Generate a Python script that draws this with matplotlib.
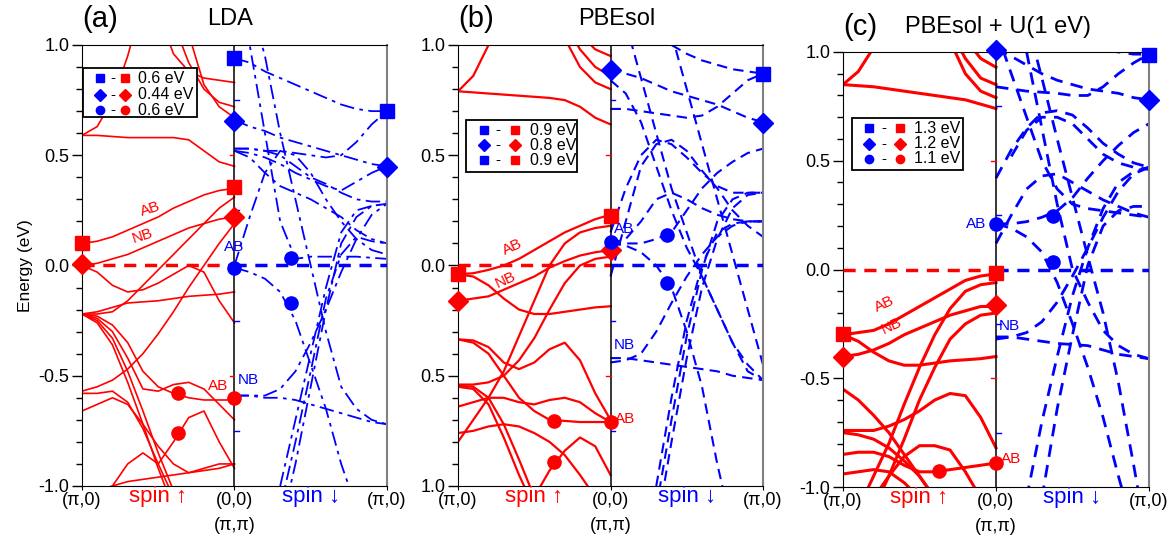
import numpy as np
import matplotlib
matplotlib.use('Agg')
import matplotlib.pyplot as plt
from matplotlib.transforms import blended_transform_factory
from matplotlib.patches import Rectangle

plt.rcParams['font.family'] = ['Liberation Sans', 'DejaVu Sans']

nan = np.nan
RED = '#ff0000'
BLUE = '#0000ff'

# momentum grid for each half: 0 -> (pi,0)/(0,0) ... 1 -> (0,0)/(pi,0)
k_grid = [0.0, 0.1, 0.2, 0.3, 0.4, 0.5, 0.6, 0.7, 0.8, 0.9, 1.0]

# ---------------- Panel (a) LDA : spin-up (red) bands ----------------
a_up_top = [0.59, 0.59, 0.585, 0.58, 0.58, 0.58, 0.58, 0.57, 0.52, 0.47, 0.45]
a_up_rise = [0.59, 0.63, 0.75, 0.95, 1.2, nan, nan, nan, nan, nan, nan]
a_up_tr1 = [nan, nan, nan, nan, nan, 1.15, 0.96, 0.88, 0.85, 0.84, 0.83]
a_up_tr2 = [nan, nan, nan, nan, nan, nan, 1.1, 0.92, 0.80, 0.74, 0.72]
a_up_tr3 = [nan, nan, nan, nan, nan, nan, nan, 1.05, 0.82, 0.72, 0.67]
a_up_AB = [0.10, 0.11, 0.13, 0.16, 0.19, 0.22, 0.26, 0.29, 0.32, 0.34, 0.35]
a_up_NB = [0.00, 0.01, 0.03, 0.05, 0.08, 0.11, 0.14, 0.17, 0.19, 0.21, 0.22]
a_up_d1 = [0.00, -0.03, -0.09, -0.12, -0.11, -0.08, -0.04, 0.00, -0.03, -0.16, -0.26]
a_up_f1 = [-0.22, -0.21, -0.19, -0.17, -0.165, -0.16, -0.15, -0.14, -0.135, -0.13, -0.12]
a_up_u1 = [-0.22, -0.22, -0.21, -0.16, -0.09, -0.02, 0.05, 0.12, 0.19, 0.26, 0.31]
a_up_u2 = [-0.57, -0.55, -0.52, -0.47, -0.40, -0.31, -0.21, -0.10, 0.00, 0.10, 0.19]
a_up_s1 = [-0.22, -0.23, -0.27, -0.35, -0.48, -0.55, -0.58, -0.60, -0.61, -0.61, -0.61]
a_up_s2 = [-0.22, -0.24, -0.30, -0.42, -0.56, -0.57, -0.54, -0.53, -0.56, -0.63, -0.70]
a_up_s3 = [-0.22, -0.25, -0.33, -0.48, -0.66, -0.85, -1.02, nan, nan, nan, nan]
a_up_s4 = [-0.22, -0.26, -0.36, -0.53, -0.72, -0.92, -1.10, nan, nan, nan, nan]
a_up_l1 = [-0.58, -0.58, -0.57, -0.62, -0.74, -0.90, -1.05, nan, nan, nan, nan]
a_up_l2 = [-0.66, -0.63, -0.60, -0.63, -0.72, -0.82, -0.90, -0.94, -0.92, -0.90, -0.90]
a_up_c2 = [-1.2, -1.1, -1.0, -0.9, -0.85, -0.90, -0.80, -0.69, -0.66, -0.80, -0.92]
a_up_b1 = [-1.05, -1.02, -1.00, -0.98, -0.97, -0.96, -0.95, -0.94, -0.93, -0.92, -0.90]

# ---------------- Panel (a) LDA : spin-down (blue) bands ----------------
a_dn_b1 = [0.94, 0.92, 0.88, 0.85, 0.82, 0.79, 0.76, 0.73, 0.71, 0.70, 0.70]
a_dn_b2 = [0.66, 0.63, 0.61, 0.58, 0.56, 0.54, 0.52, 0.50, 0.48, 0.46, 0.45]
a_dn_b3 = [0.53, 0.53, 0.52, 0.52, 0.51, 0.50, 0.49, 0.50, 0.56, 0.64, 0.70]
a_dn_b4 = [0.52, 0.51, 0.49, 0.46, 0.42, 0.39, 0.36, 0.34, 0.38, 0.42, 0.45]
a_dn_b5 = [0.52, 0.49, 0.42, 0.36, 0.33, 0.30, 0.26, 0.22, 0.16, 0.12, 0.10]
a_dn_b6 = [1.3, 1.0, 0.60, 0.20, 0.03, 0.04, 0.04, 0.04, 0.04, 0.035, 0.03]
a_dn_b7 = [0.00, 0.22, 0.42, 0.52, 0.50, 0.42, 0.30, 0.20, 0.12, 0.07, 0.05]
a_dn_b8 = [-0.01, -0.03, -0.06, -0.12, -0.25, -0.45, -0.65, -0.90, -1.10, nan, nan]
a_dn_nb1 = [-0.59, -0.59, -0.59, -0.56, -0.48, -0.35, -0.20, -0.03, 0.12, 0.23, 0.28]
a_dn_nb2 = [-0.59, -0.59, -0.60, -0.60, -0.61, -0.63, -0.65, -0.67, -0.69, -0.71, -0.72]
a_dn_st1 = [nan, nan, nan, -1.0, -0.70, -0.40, -0.10, 0.15, 0.25, 0.27, 0.28]
a_dn_st2 = [nan, nan, nan, -1.2, -0.90, -0.55, -0.20, 0.10, 0.22, 0.27, 0.28]
a_dn_st3 = [nan, nan, nan, -1.1, -0.80, -0.48, -0.15, 0.05, 0.13, 0.11, 0.10]
a_dn_dt1 = [nan, 1.2, 0.95, 0.60, 0.30, 0.00, -0.30, -0.55, -0.65, -0.70, -0.72]
a_dn_mid = [0.53, 0.53, 0.52, 0.50, 0.45, 0.40, 0.37, 0.33, 0.30, 0.29, 0.29]

# ---------------- Panel (b) PBEsol : spin-up ----------------
b_up_top = [0.79, 0.785, 0.78, 0.775, 0.77, 0.765, 0.76, 0.75, 0.72, 0.67, 0.64]
b_up_rise = [0.79, 0.86, 1.0, 1.2, nan, nan, nan, nan, nan, nan, nan]
b_up_tr1 = [nan, nan, nan, nan, nan, nan, 1.2, 1.03, 0.90, 0.83, 0.80]
b_up_tr2 = [nan, nan, nan, nan, nan, nan, nan, 1.1, 0.98, 0.90, 0.86]
b_up_tr3 = [nan, nan, nan, nan, nan, nan, nan, nan, 1.05, 0.98, 0.95]
b_up_AB = [-0.04, -0.035, -0.02, 0.00, 0.03, 0.07, 0.11, 0.15, 0.18, 0.21, 0.23]
b_up_NB = [-0.16, -0.15, -0.14, -0.11, -0.08, -0.05, -0.01, 0.02, 0.045, 0.06, 0.07]
b_up_d1 = [-0.04, -0.05, -0.09, -0.15, -0.20, -0.22, -0.22, -0.21, -0.20, -0.19, -0.185]
b_up_u1 = [-0.80, -0.70, -0.60, -0.48, -0.32, -0.16, 0.00, 0.10, 0.15, 0.17, 0.18]
b_up_u2 = [-0.54, -0.54, -0.53, -0.50, -0.43, -0.33, -0.20, -0.08, 0.00, 0.03, 0.04]
b_up_l1 = [-0.335, -0.34, -0.37, -0.44, -0.47, -0.44, -0.38, -0.35, -0.43, -0.58, -0.70]
b_up_l2 = [-0.335, -0.35, -0.40, -0.50, -0.60, -0.66, -0.70, -0.705, -0.71, -0.71, -0.71]
b_up_l3 = [-0.545, -0.55, -0.60, -0.72, -0.88, -1.05, nan, nan, nan, nan, nan]
b_up_l4 = [-0.55, -0.56, -0.63, -0.78, -0.95, -1.10, nan, nan, nan, nan, nan]
b_up_l5 = [-0.64, -0.62, -0.60, -0.60, -0.62, -0.63, -0.61, -0.60, -0.62, -0.67, -0.71]
b_up_l6 = [-0.76, -0.75, -0.73, -0.72, -0.73, -0.76, -0.80, -0.86, -0.95, -1.05, nan]
b_up_c2 = [nan, nan, nan, nan, nan, -1.05, -0.93, -0.84, -0.78, -0.82, -0.95]

# ---------------- Panel (b) PBEsol : spin-down ----------------
b_dn_b1 = [0.89, 0.87, 0.85, 0.82, 0.79, 0.77, 0.75, 0.73, 0.70, 0.67, 0.65]
b_dn_b2 = [0.71, 0.71, 0.70, 0.69, 0.68, 0.67, 0.68, 0.72, 0.78, 0.84, 0.87]
b_dn_b3 = [nan, nan, nan, nan, 1.0, 0.96, 0.93, 0.91, 0.89, 0.88, 0.87]
b_dn_h1 = [-0.05, 0.20, 0.45, 0.55, 0.57, 0.52, 0.43, 0.35, 0.25, 0.18, 0.13]
b_dn_h2 = [0.15, 0.35, 0.50, 0.57, 0.55, 0.49, 0.42, 0.36, 0.33, 0.33, 0.33]
b_dn_h3 = [0.10, 0.12, 0.20, 0.30, 0.33, 0.30, 0.26, 0.23, 0.21, 0.20, 0.20]
b_dn_d084 = [0.84, 0.78, 0.65, 0.45, 0.25, 0.08, -0.05, -0.20, -0.35, -0.45, -0.52]
b_dn_AB = [0.10, 0.10, 0.10, 0.12, 0.15, 0.25, 0.35, 0.42, 0.47, 0.51, 0.53]
b_dn_cd = [0.10, 0.09, 0.06, 0.00, -0.10, -0.30, -0.55, -0.90, -1.20, nan, nan]
b_dn_NB = [-0.42, -0.42, -0.43, -0.44, -0.45, -0.46, -0.47, -0.48, -0.50, -0.51, -0.52]
b_dn_NB2 = [-0.44, -0.43, -0.40, -0.30, -0.17, -0.05, 0.05, 0.13, 0.18, 0.20, 0.20]
b_dn_s1 = [nan, nan, nan, -1.0, -0.60, -0.25, 0.00, 0.15, 0.19, 0.20, 0.20]
b_dn_s2 = [nan, nan, nan, -1.2, -0.80, -0.42, -0.10, 0.12, 0.26, 0.32, 0.33]
b_dn_s3 = [nan, nan, nan, -1.1, -0.70, -0.32, -0.02, 0.20, 0.30, 0.33, 0.33]
b_dn_t1 = [nan, 1.1, 0.85, 0.60, 0.35, 0.15, -0.05, -0.20, -0.35, -0.48, -0.52]
b_dn_t2 = [nan, nan, nan, nan, 1.05, 0.80, 0.55, 0.30, 0.05, -0.20, -0.45]

# ---------------- Panel (c) PBEsol+U : spin-up ----------------
c_up_top = [0.85, 0.845, 0.84, 0.83, 0.82, 0.81, 0.80, 0.79, 0.78, 0.76, 0.74]
c_up_rise = [0.85, 0.91, 1.02, nan, nan, nan, nan, nan, nan, nan, nan]
c_up_tr1 = [nan, nan, nan, nan, nan, nan, nan, 1.05, 0.90, 0.82, 0.79]
c_up_tr2 = [nan, nan, nan, nan, nan, nan, nan, 1.1, 0.97, 0.88, 0.85]
c_up_tr3 = [nan, nan, nan, nan, nan, nan, nan, nan, 1.06, 0.97, 0.93]
c_up_AB = [-0.30, -0.29, -0.28, -0.25, -0.21, -0.17, -0.13, -0.09, -0.05, -0.03, -0.02]
c_up_NB = [-0.40, -0.39, -0.37, -0.34, -0.30, -0.27, -0.24, -0.21, -0.19, -0.17, -0.17]
c_up_d1 = [-0.30, -0.33, -0.38, -0.42, -0.44, -0.44, -0.43, -0.42, -0.415, -0.41, -0.40]
c_up_u1 = [nan, -1.1, -0.95, -0.80, -0.62, -0.45, -0.30, -0.18, -0.10, -0.07, -0.06]
c_up_u2 = [nan, nan, -1.1, -0.95, -0.78, -0.60, -0.45, -0.32, -0.25, -0.21, -0.20]
c_up_l1 = [-0.55, -0.60, -0.67, -0.75, -0.85, -0.95, -1.05, nan, nan, nan, nan]
c_up_l2 = [-0.74, -0.74, -0.74, -0.72, -0.69, -0.65, -0.60, -0.57, -0.58, -0.68, -0.82]
c_up_l3 = [-0.75, -0.76, -0.78, -0.82, -0.88, -0.95, -1.05, nan, nan, nan, nan]
c_up_l4 = [-0.85, -0.84, -0.84, -0.86, -0.90, -0.93, -0.93, -0.92, -0.91, -0.90, -0.89]
c_up_l5 = [-0.94, -0.93, -0.92, -0.93, -0.98, -1.05, nan, nan, nan, nan, nan]
c_up_l6 = [nan, nan, -1.05, -0.95, -0.86, -0.81, -0.81, -0.83, -0.93, -1.05, nan]

# ---------------- Panel (c) PBEsol+U : spin-down ----------------
c_dn_b1 = [1.02, 0.98, 0.94, 0.90, 0.87, 0.85, 0.83, 0.82, 0.81, 0.79, 0.78]
c_dn_b2 = [0.84, 0.83, 0.82, 0.815, 0.81, 0.80, 0.80, 0.84, 0.90, 0.95, 0.99]
c_dn_b3 = [nan, nan, nan, nan, nan, nan, 1.03, 1.01, 1.00, 0.99, 0.99]
c_dn_h1 = [0.42, 0.55, 0.65, 0.72, 0.73, 0.71, 0.65, 0.58, 0.53, 0.49, 0.47]
c_dn_h1b = [nan, 0.52, 0.64, 0.70, 0.70, 0.67, 0.60, 0.53, 0.49, 0.47, 0.46]
c_dn_h2 = [0.12, 0.25, 0.37, 0.43, 0.44, 0.40, 0.36, 0.32, 0.29, 0.26, 0.24]
c_dn_AB = [0.21, 0.21, 0.22, 0.24, 0.27, 0.33, 0.42, 0.50, 0.57, 0.63, 0.67]
c_dn_cd = [0.21, 0.19, 0.15, 0.08, -0.06, -0.25, -0.45, -0.68, -0.95, -1.2, nan]
c_dn_NB = [-0.31, -0.31, -0.32, -0.33, -0.34, -0.345, -0.35, -0.37, -0.39, -0.40, -0.41]
c_dn_NB2 = [-0.32, -0.31, -0.29, -0.24, -0.15, -0.03, 0.10, 0.24, 0.36, 0.44, 0.47]
c_dn_s1 = [nan, nan, -1.05, -0.70, -0.40, -0.12, 0.10, 0.28, 0.40, 0.45, 0.47]
c_dn_s2 = [nan, nan, nan, -1.05, -0.64, -0.30, 0.02, 0.20, 0.27, 0.29, 0.29]
c_dn_t1 = [nan, nan, 1.15, 0.88, 0.60, 0.33, 0.06, -0.20, -0.52, -0.90, -1.3]
c_dn_t2 = [nan, nan, 1.0, 0.65, 0.30, 0.00, -0.15, -0.28, -0.35, -0.39, -0.41]
c_dn_t3 = [1.1, 0.90, 0.70, 0.50, 0.37, 0.30, 0.28, 0.27, 0.26, 0.25, 0.24]

# ---------------- markers (x in path units: 0=(pi,0), 1=(0,0), 2=(pi,0)) ----------------
a_up_sq_x, a_up_sq_y = [0, 1], [0.10, 0.355]
a_up_di_x, a_up_di_y = [0, 1], [0.005, 0.22]
a_up_ci_x, a_up_ci_y = [0.63, 0.63, 1], [-0.58, -0.76, -0.60]
a_dn_sq_x, a_dn_sq_y = [1, 2], [0.94, 0.70]
a_dn_di_x, a_dn_di_y = [1, 2], [0.655, 0.448]
a_dn_ci_x, a_dn_ci_y = [1, 1.37, 1.37], [-0.01, 0.035, -0.168]

b_up_sq_x, b_up_sq_y = [0, 1], [-0.04, 0.226]
b_up_di_x, b_up_di_y = [0, 1], [-0.163, 0.069]
b_up_ci_x, b_up_ci_y = [0.63, 0.63, 1], [-0.705, -0.89, -0.71]
b_dn_sq_x, b_dn_sq_y = [2], [0.87]
b_dn_di_x, b_dn_di_y = [1, 2], [0.885, 0.645]
b_dn_ci_x, b_dn_ci_y = [1, 1.37, 1.37], [0.105, 0.136, -0.08]

c_up_sq_x, c_up_sq_y = [0, 1], [-0.296, -0.015]
c_up_di_x, c_up_di_y = [0, 1], [-0.40, -0.165]
c_up_ci_x, c_up_ci_y = [0.63, 1], [-0.925, -0.89]
c_dn_sq_x, c_dn_sq_y = [2], [0.987]
c_dn_di_x, c_dn_di_y = [1, 2], [1.01, 0.78]
c_dn_ci_x, c_dn_ci_y = [1, 1.37, 1.37], [0.21, 0.247, 0.035]

# legend entries
a_leg_markers = ['s', 'D', 'o']
a_leg_labels = ['0.6 eV', '0.44 eV', '0.6 eV']
b_leg_markers = ['s', 'D', 's']
b_leg_labels = ['0.9 eV', '0.8 eV', '0.9 eV']
c_leg_markers = ['s', 'D', 'o']
c_leg_labels = ['1.3 eV', '1.2 eV', '1.1 eV']

ytick_vals = [-1.0, -0.5, 0.0, 0.5, 1.0]
ytick_labels_ac = ['-1.0', '-0.5', '0.0', '0.5', '1.0']
ytick_labels_b = ['1.0', '0.5', '0.0', '0.5', '1.0']
xtick_vals = [0, 1, 2]
xtick_labels = ['(π,0)', '(0,0)\n(π,π)', '(π,0)']

# short inner tick marks on the (0,0) line
mid_red_ticks = [0.5, -0.5]
mid_blue_ticks = [0.75, 0.25, -0.25, -0.75]

# ---------------------------------------------------------------------------
fig = plt.figure(figsize=(11.69, 5.5), dpi=100)

panels = [
    dict(rect=[0.0701, 0.1164, 0.2609, 0.8018], tag='(a)', title='LDA', title_x=0.485,
         up=[a_up_top, a_up_rise, a_up_tr1, a_up_tr2, a_up_tr3, a_up_AB, a_up_NB, a_up_d1,
             a_up_f1, a_up_u1, a_up_u2, a_up_s1, a_up_s2, a_up_s3, a_up_s4, a_up_l1,
             a_up_l2, a_up_c2, a_up_b1],
         dn=[a_dn_b1, a_dn_b2, a_dn_b3, a_dn_b4, a_dn_b5, a_dn_b6, a_dn_b7, a_dn_b8,
             a_dn_nb1, a_dn_nb2, a_dn_st1, a_dn_st2, a_dn_st3, a_dn_dt1, a_dn_mid],
         up_lw=1.2, dn_lw=1.3, dn_ls=(0, (8, 3, 2, 3)),
         mk=[(a_up_sq_x, a_up_sq_y, 's', RED), (a_up_di_x, a_up_di_y, 'D', RED),
             (a_up_ci_x, a_up_ci_y, 'o', RED), (a_dn_sq_x, a_dn_sq_y, 's', BLUE),
             (a_dn_di_x, a_dn_di_y, 'D', BLUE), (a_dn_ci_x, a_dn_ci_y, 'o', BLUE)],
         leg=dict(box=(0.003, 0.837, 0.377, 0.948), rows=(0.925, 0.887, 0.852),
                  xs=(0.059, 0.10, 0.141, 0.184), markers=a_leg_markers, labels=a_leg_labels),
         yl=ytick_labels_ac,
         texts=[(0.45, 0.255, 'AB', RED, 18, 'center'), (0.40, 0.135, 'NB', RED, 18, 'center'),
                (1.0, 0.085, 'AB', BLUE, 0, 'center'), (1.02, -0.52, 'NB', BLUE, 0, 'left'),
                (0.89, -0.545, 'AB', RED, 0, 'center')]),
    dict(rect=[0.3918, 0.1164, 0.2609, 0.8018], tag='(b)', title='PBEsol', title_x=0.52,
         up=[b_up_top, b_up_rise, b_up_tr1, b_up_tr2, b_up_tr3, b_up_AB, b_up_NB, b_up_d1,
             b_up_u1, b_up_u2, b_up_l1, b_up_l2, b_up_l3, b_up_l4, b_up_l5, b_up_l6, b_up_c2],
         dn=[b_dn_b1, b_dn_b2, b_dn_b3, b_dn_h1, b_dn_h2, b_dn_h3, b_dn_d084, b_dn_AB,
             b_dn_cd, b_dn_NB, b_dn_NB2, b_dn_s1, b_dn_s2, b_dn_s3, b_dn_t1, b_dn_t2],
         up_lw=1.6, dn_lw=1.5, dn_ls=(0, (5, 3)),
         mk=[(b_up_sq_x, b_up_sq_y, 's', RED), (b_up_di_x, b_up_di_y, 'D', RED),
             (b_up_ci_x, b_up_ci_y, 'o', RED), (b_dn_sq_x, b_dn_sq_y, 's', BLUE),
             (b_dn_di_x, b_dn_di_y, 'D', BLUE), (b_dn_ci_x, b_dn_ci_y, 'o', BLUE)],
         leg=dict(box=(0.026, 0.712, 0.390, 0.830), rows=(0.807, 0.773, 0.739),
                  xs=(0.085, 0.131, 0.187, 0.236), markers=b_leg_markers, labels=b_leg_labels),
         yl=ytick_labels_b,
         texts=[(0.36, 0.085, 'AB', RED, 25, 'center'), (0.31, -0.065, 'NB', RED, 25, 'center'),
                (1.02, 0.165, 'AB', BLUE, 0, 'left'), (1.02, -0.36, 'NB', BLUE, 0, 'left'),
                (1.03, -0.695, 'AB', RED, 0, 'left')]),
    dict(rect=[0.7211, 0.1145, 0.2618, 0.791], tag='(c)', title='PBEsol + U(1 eV)', title_x=0.507,
         up=[c_up_top, c_up_rise, c_up_tr1, c_up_tr2, c_up_tr3, c_up_AB, c_up_NB, c_up_d1,
             c_up_u1, c_up_u2, c_up_l1, c_up_l2, c_up_l3, c_up_l4, c_up_l5, c_up_l6],
         dn=[c_dn_b1, c_dn_b2, c_dn_b3, c_dn_h1, c_dn_h1b, c_dn_h2, c_dn_AB, c_dn_cd,
             c_dn_NB, c_dn_NB2, c_dn_s1, c_dn_s2, c_dn_t1, c_dn_t2, c_dn_t3],
         up_lw=2.2, dn_lw=2.0, dn_ls=(0, (4.5, 3)),
         mk=[(c_up_sq_x, c_up_sq_y, 's', RED), (c_up_di_x, c_up_di_y, 'D', RED),
             (c_up_ci_x, c_up_ci_y, 'o', RED), (c_dn_sq_x, c_dn_sq_y, 's', BLUE),
             (c_dn_di_x, c_dn_di_y, 'D', BLUE), (c_dn_ci_x, c_dn_ci_y, 'o', BLUE)],
         leg=dict(box=(0.029, 0.729, 0.392, 0.848), rows=(0.825, 0.789, 0.754),
                  xs=(0.085, 0.134, 0.186, 0.232), markers=c_leg_markers, labels=c_leg_labels),
         yl=ytick_labels_ac,
         texts=[(0.27, -0.16, 'AB', RED, 25, 'center'), (0.32, -0.26, 'NB', RED, 25, 'center'),
                (0.87, 0.21, 'AB', BLUE, 0, 'center'), (1.02, -0.26, 'NB', BLUE, 0, 'left'),
                (1.03, -0.87, 'AB', RED, 0, 'left')]),
]

x_up = k_grid
x_dn = [1.0 + q for q in k_grid]

for i, p in enumerate(panels):
    ax = fig.add_axes(p['rect'])
    ax.set_xlim(0, 2)
    ax.set_ylim(-1, 1)
    for yb in p['up']:
        ax.plot(x_up, yb, color=RED, lw=p['up_lw'], solid_joinstyle='round', zorder=2)
    for yb in p['dn']:
        ax.plot(x_dn, yb, color=BLUE, lw=p['dn_lw'], ls=p['dn_ls'], zorder=2)
    # Fermi level
    ax.plot([0, 1], [0, 0], color=RED, lw=2.5, ls=(0, (3.5, 2.5)), zorder=3)
    ax.plot([1, 2], [0, 0], color=BLUE, lw=2.5, ls=(0, (3.5, 2.5)), zorder=3)
    # dividing line at (0,0)
    ax.axvline(1, color='black', lw=1.1, zorder=4)
    for yt in mid_red_ticks:
        ax.plot([0.97, 1.0], [yt, yt], color=RED, lw=1.0, zorder=4)
    for yt in mid_blue_ticks:
        ax.plot([1.0, 1.03], [yt, yt], color=BLUE, lw=1.0, zorder=4)
    # markers
    for xs, ys, m, col in p['mk']:
        ms = 10 if m == 'D' else 9.5
        ax.plot(xs, ys, ls='none', marker=m, color=col, ms=ms, clip_on=False, zorder=6)
    # labels AB/NB
    for tx, ty, s, col, rot, ha in p['texts']:
        ax.text(tx, ty, s, color=col, fontsize=11, rotation=rot, ha=ha, va='center',
                rotation_mode='anchor', zorder=7)
    # legend box
    lg = p['leg']
    x0, y0, x1, y1 = lg['box']
    ax.add_patch(Rectangle((x0, y0), x1 - x0, y1 - y0, transform=ax.transAxes,
                           fc='white', ec='black', lw=1.3, zorder=8))
    xb, xd, xr, xt = lg['xs']
    for yy, m, lab in zip(lg['rows'], lg['markers'], lg['labels']):
        mss = 6.5 if m == 'D' else 6
        ax.plot([xb], [yy], marker=m, color=BLUE, ms=mss, transform=ax.transAxes, zorder=9)
        ax.text(xd, yy, '-', transform=ax.transAxes, ha='center', va='center', fontsize=11, zorder=9)
        ax.plot([xr], [yy], marker=m, color=RED, ms=mss, transform=ax.transAxes, zorder=9)
        ax.text(xt, yy, lab, transform=ax.transAxes, ha='left', va='center', fontsize=11.5, zorder=9)
    # ticks
    ax.set_yticks(ytick_vals)
    ax.set_yticklabels(p['yl'])
    ax.set_yticks(np.arange(-1.0, 1.01, 0.1), minor=True)
    ax.tick_params(axis='y', which='major', length=7, width=1, direction='out', labelsize=13, pad=2)
    ax.tick_params(axis='y', which='minor', length=4, width=1, direction='out')
    ax.set_xticks(xtick_vals)
    ax.set_xticklabels(xtick_labels, linespacing=1.65, va='top')
    ax.tick_params(axis='x', which='major', length=3, direction='out', labelsize=13, pad=1)
    # spin labels
    tr = blended_transform_factory(ax.transData, ax.transAxes)
    ax.text(0.5, -0.024, 'spin ↑', transform=tr, color=RED, fontsize=16, ha='center', va='center')
    ax.text(1.5, -0.024, 'spin ↓', transform=tr, color=BLUE, fontsize=16, ha='center', va='center')
    # panel tag and title
    ax.text(0.0, 1.058, p['tag'], transform=ax.transAxes, fontsize=21, ha='left', va='center')
    ax.text(p['title_x'], 1.058, p['title'], transform=ax.transAxes, fontsize=17, ha='center', va='center')
    for s in ['left', 'top', 'bottom']:
        ax.spines[s].set_color('black')
    ax.spines['right'].set_color('#808080')
    ax.spines['right'].set_linewidth(1.5)
    if i == 0:
        ax.set_ylabel('Energy (eV)', fontsize=12.5, labelpad=4)

fig.savefig('out.png', dpi=100)
